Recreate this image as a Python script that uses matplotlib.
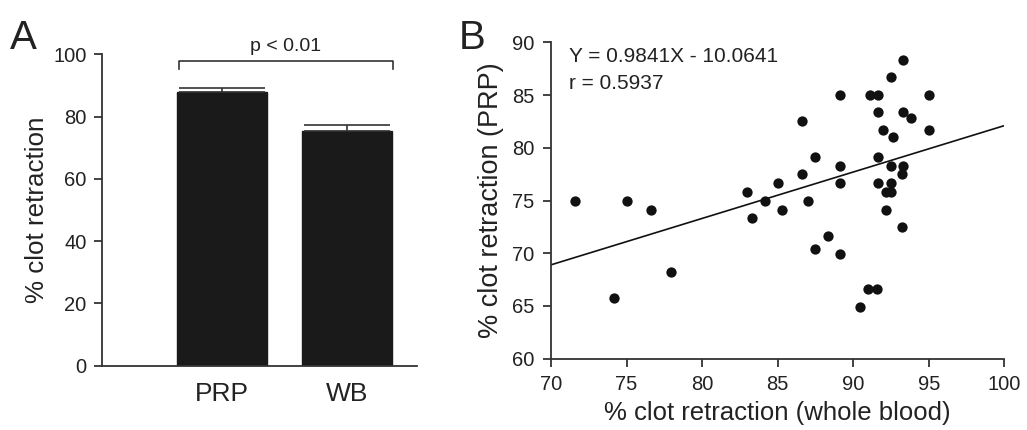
import matplotlib
matplotlib.use("Agg")
import matplotlib.pyplot as plt

plt.rcParams['font.family'] = ['Liberation Sans', 'DejaVu Sans']

# Panel A data
categories = ["PRP", "WB"]
bar_means = [88.0, 75.4]
bar_errs = [1.1, 2.0]
p_text = "p < 0.01"

# Panel B data
wb_vals = [71.6, 75.0, 76.6, 83.0, 84.15, 83.3, 85.0, 85.3, 93.3, 92.5,
           89.1, 91.1, 91.65, 95.0, 91.65, 93.3, 93.8, 86.6, 92.0, 95.0,
           92.65, 87.5, 91.65, 89.1, 92.5, 93.3, 86.6, 93.2, 89.1, 91.65,
           92.5, 92.2, 92.5, 87.0, 92.2, 93.2, 74.15, 77.97, 88.3, 87.5,
           89.1, 90.97, 91.6, 90.46]
prp_vals = [75.0, 75.0, 74.1, 75.8, 75.0, 73.3, 76.65, 74.1, 88.3, 86.7,
            85.0, 85.0, 85.0, 85.0, 83.35, 83.35, 82.8, 82.5, 81.7, 81.7,
            81.0, 79.15, 79.15, 78.3, 78.3, 78.3, 77.5, 77.5, 76.65, 76.65,
            76.65, 75.8, 75.8, 75.0, 74.1, 72.5, 65.75, 68.25, 71.6, 70.4,
            69.95, 66.6, 66.6, 64.93]
line_x = [70, 100]
line_y = [68.9, 82.1]
eq_text = "Y = 0.9841X - 10.0641"
r_text = "r = 0.5937"

dark = "#222222"
axc = "#333333"

fig = plt.figure(figsize=(10.27, 4.30), dpi=100)

# ---------- Panel A ----------
axA = fig.add_axes([0.099, 0.1495, 0.3067, 0.724])
xpos = [1, 2]
axA.bar(xpos, bar_means, width=0.72, color="#1a1a1a", edgecolor="#1a1a1a", zorder=2)
axA.errorbar(xpos, bar_means, yerr=[[0, 0], bar_errs], fmt="none", ecolor=axc,
             elinewidth=1.2, capsize=31, capthick=1.2, zorder=3)
axA.set_xlim(0.04, 2.56)
axA.set_ylim(0, 100)
axA.set_yticks([0, 20, 40, 60, 80, 100])
axA.set_xticks(xpos)
axA.set_xticklabels(categories, fontsize=19, color=dark)
axA.tick_params(axis="x", length=0, pad=12)
axA.tick_params(axis="y", labelsize=14.5, colors=dark, length=6, width=1.2,
                direction="out", pad=5)
for s in ["top", "right"]:
    axA.spines[s].set_visible(False)
for s in ["left", "bottom"]:
    axA.spines[s].set_color(axc)
    axA.spines[s].set_linewidth(1.3)
axA.set_ylabel("% clot retraction", fontsize=18.7, color=dark, labelpad=3)
# significance bracket
bx1, bx2, btop, bbot = 0.658, 2.368, 97.9, 95.2
axA.plot([bx1, bx1, bx2, bx2], [bbot, btop, btop, bbot], color=axc, lw=1.2,
         clip_on=False)
axA.text((bx1 + bx2) / 2, btop + 1.8, p_text, ha="center", va="bottom",
         fontsize=14, color=dark, clip_on=False)
fig.text(0.010, 0.955, "A", fontsize=29, color=dark, ha="left", va="top")

# ---------- Panel B ----------
axB = fig.add_axes([0.5365, 0.1658, 0.4414, 0.7358])
axB.scatter(wb_vals, prp_vals, s=55, color="#111111", zorder=3, linewidths=0)
axB.plot(line_x, line_y, color="#111111", lw=1.2, zorder=2)
axB.set_xlim(70, 100)
axB.set_ylim(60, 90)
axB.set_xticks([70, 75, 80, 85, 90, 95, 100])
axB.set_yticks([60, 65, 70, 75, 80, 85, 90])
axB.tick_params(labelsize=14.5, colors=dark, length=6, width=1.2,
                direction="out", pad=6)
for s in ["top", "right"]:
    axB.spines[s].set_visible(False)
for s in ["left", "bottom"]:
    axB.spines[s].set_color(axc)
    axB.spines[s].set_linewidth(1.3)
axB.set_xlabel("% clot retraction (whole blood)", fontsize=18.5, color=dark, labelpad=5)
axB.set_ylabel("% clot retraction (PRP)", fontsize=19.5, color=dark, labelpad=6)
axB.text(0.04, 0.985, eq_text, transform=axB.transAxes, fontsize=15, color=dark,
         ha="left", va="top")
axB.text(0.04, 0.90, r_text, transform=axB.transAxes, fontsize=15, color=dark,
         ha="left", va="top")
fig.text(0.447, 0.955, "B", fontsize=29, color=dark, ha="left", va="top")

fig.savefig("out.png", dpi=100)
